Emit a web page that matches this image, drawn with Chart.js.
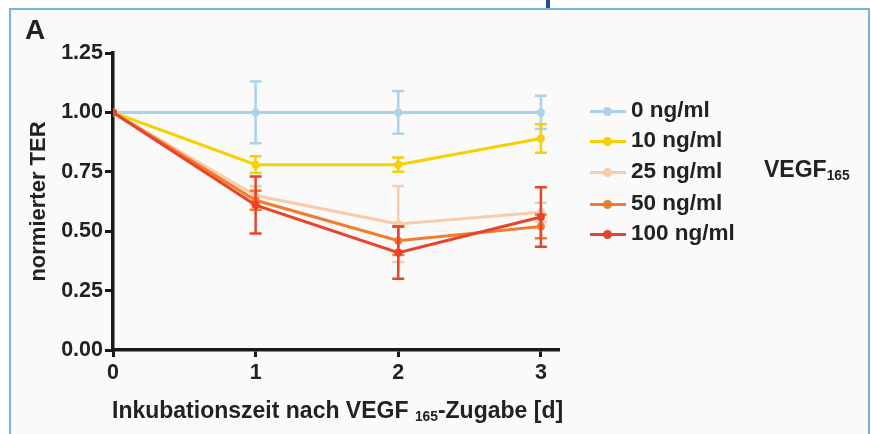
<!DOCTYPE html>
<html>
<head>
<meta charset="utf-8">
<script src="https://cdn.jsdelivr.net/npm/chart.js@4.4.1/dist/chart.umd.min.js"></script>
<style>
  body { margin: 0; background: #fff; font-family: "Liberation Sans", Arial, sans-serif; }
  #wrap { position: relative; width: 871px; height: 434px; overflow: hidden; }
  #frame { position: absolute; left: 9px; top: 8px; width: 857px; height: 440px; border: 2px solid #74b4e4; background: #fafafa; }
  #mark { position: absolute; left: 546px; top: 0; width: 4px; height: 8px; background: #1d4f9e; }
  #chartBox { position: absolute; left: 0; top: 0; width: 871px; height: 434px; }
  .txt { position: absolute; font-weight: bold; color: #222; white-space: nowrap; }
  .txt sub { font-size: 60%; vertical-align: -0.25em; }
  .leg { position: absolute; left: 590px; height: 20px; }
  .leg .ln { position: absolute; left: 0; top: 9px; width: 36px; height: 3px; }
  .leg .dot { position: absolute; left: 13px; top: 6px; width: 9px; height: 9px; border-radius: 50%; }
  .leg .lab { position: absolute; left: 41px; top: -4px; font-size: 22.5px; font-weight: bold; color: #222; white-space: nowrap; }
</style>
</head>
<body>
<div id="wrap">
  <div id="frame"></div>
  <div id="mark"></div>
  <div id="chartBox"><canvas id="lineChart" width="871" height="434"></canvas></div>
  <div class="txt" style="left:25px; top:14px; font-size:28px;">A</div>
  <div class="txt" style="left:112px; top:397px; font-size:23px;">Inkubationszeit nach VEGF <sub>165</sub>-Zugabe [d]</div>
  <div class="txt" style="left:764px; top:156px; font-size:23px;">VEGF<sub>165</sub></div>
  <div id="legend"></div>
</div>
<script>
const days = [0, 1, 2, 3];
const seriesNames = ['0 ng/ml', '10 ng/ml', '25 ng/ml', '50 ng/ml', '100 ng/ml'];
const seriesColors = ['#a9d4ee', '#f6d000', '#f8ccaa', '#f07d2c', '#e8432b'];

const ter0 = [1.00, 1.00, 1.00, 1.00];
const ter10 = [1.00, 0.78, 0.78, 0.89];
const ter25 = [1.00, 0.65, 0.53, 0.58];
const ter50 = [1.00, 0.63, 0.46, 0.52];
const ter100 = [1.00, 0.61, 0.41, 0.56];

const err0 = [0, 0.13, 0.09, 0.07];
const err10 = [0, 0.035, 0.03, 0.06];
const err25 = [0, 0.04, 0.16, 0.04];
const err50 = [0, 0.04, 0.06, 0.05];
const err100 = [0, 0.12, 0.11, 0.125];

const yTicks = [0, 0.25, 0.5, 0.75, 1.0, 1.25];

const allValues = [ter0, ter10, ter25, ter50, ter100];
const allErrors = [err0, err10, err25, err50, err100];

// error bars drawn per dataset so they stack like the lines
const errorBars = {
    id: 'errorBars',
    afterDatasetDraw(chart, args) {
        const ds = chart.data.datasets[args.index];
        const yScale = chart.scales.y;
        const ctx = chart.ctx;
        ctx.save();
        ctx.strokeStyle = ds.borderColor;
        ctx.lineWidth = 2.5;
        args.meta.data.forEach((pt, i) => {
            const e = ds.errors[i];
            if (!e) return;
            const v = ds.data[i].y;
            const top = yScale.getPixelForValue(v + e);
            const bot = yScale.getPixelForValue(v - e);
            ctx.beginPath();
            ctx.moveTo(pt.x, top); ctx.lineTo(pt.x, bot);
            ctx.moveTo(pt.x - 6, top); ctx.lineTo(pt.x + 6, top);
            ctx.moveTo(pt.x - 6, bot); ctx.lineTo(pt.x + 6, bot);
            ctx.stroke();
        });
        ctx.restore();
    }
};

const datasets = [];
for (let s = 0; s < seriesNames.length; s++) {
    datasets.push({
        label: seriesNames[s],
        data: days.map((d, i) => ({ x: d, y: allValues[s][i] })),
        errors: allErrors[s],
        borderColor: seriesColors[s],
        backgroundColor: seriesColors[s],
        borderWidth: 3,
        pointRadius: 4,
        pointBorderWidth: 0,
        order: seriesNames.length - s,
    });
}

// html legend
const legend = document.getElementById('legend');
const legendTops = [101, 131, 162, 194, 224];
seriesNames.forEach((name, s) => {
    const row = document.createElement('div');
    row.className = 'leg';
    row.style.top = legendTops[s] + 'px';
    row.innerHTML = '<div class="ln" style="background:' + seriesColors[s] + '"></div>' +
        '<div class="dot" style="background:' + seriesColors[s] + '"></div>' +
        '<div class="lab">' + name + '</div>';
    legend.appendChild(row);
});

const tickFont = { family: '"Liberation Sans", Arial, sans-serif', size: 21.5, weight: 'bold' };

new Chart(document.getElementById('lineChart'), {
    type: 'line',
    data: { datasets: datasets },
    options: {
        responsive: false,
        animation: false,
        layout: { padding: { left: 0, top: 53, right: 313, bottom: 0 } },
        plugins: {
            legend: { display: false },
            tooltip: { enabled: false },
        },
        scales: {
            x: {
                type: 'linear',
                min: 0,
                max: 3.12,
                afterFit(scale) { scale.height = 84; },
                border: { color: '#1a1a1a', width: 3.5 },
                grid: { drawOnChartArea: false, color: '#1a1a1a', lineWidth: 3, tickLength: 7 },
                ticks: { stepSize: 1, includeBounds: false, color: '#222', font: tickFont, padding: 3 },
            },
            y: {
                min: 0,
                max: 1.25,
                afterFit(scale) { scale.width = 113; },
                afterBuildTicks(scale) { scale.ticks = yTicks.map(v => ({ value: v })); },
                border: { color: '#1a1a1a', width: 3.5 },
                grid: { drawOnChartArea: false, color: '#1a1a1a', lineWidth: 3, tickLength: 8 },
                ticks: { color: '#222', font: tickFont, padding: 2, callback: v => v.toFixed(2) },
                title: {
                    display: true,
                    text: 'normierter TER',
                    color: '#222',
                    font: { family: '"Liberation Sans", Arial, sans-serif', size: 22, weight: 'bold' },
                    padding: { top: 26, bottom: 0 },
                },
            },
        },
    },
    plugins: [errorBars],
});
</script>
</body>
</html>
